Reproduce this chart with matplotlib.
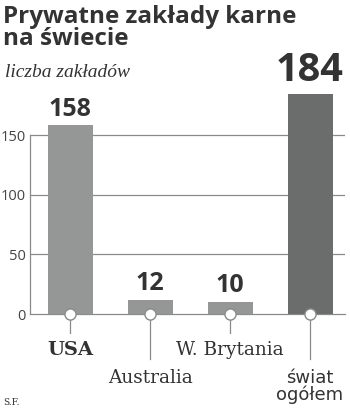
import matplotlib
matplotlib.use("Agg")
import matplotlib.pyplot as plt

# data
categories = ["USA", "Australia", "W. Brytania", "świat\nogółem"]
values     = [158, 12, 10, 184]
yticks     = [0, 50, 100, 150]

BAR_GRAY  = "#959696"
BAR_DARK  = "#6b6d6d"
TEXT_DARK = "#333333"
GRID      = "#8a8a8a"

fig = plt.figure(figsize=(3.5, 4.09), dpi=100)
ax = fig.add_axes([30/350, 95/409, 315/350, 226.7/409])

colors = [BAR_GRAY, BAR_GRAY, BAR_GRAY, BAR_DARK]
x = list(range(len(categories)))
ax.bar(x, values, width=0.5625, color=colors, zorder=3)

ax.set_xlim(-0.5, 3.4375)
ax.set_ylim(0, 190)
ax.set_yticks(yticks)
ax.set_yticklabels([str(v) for v in yticks], fontsize=10.5, color="#444444",
                   family="Open Sans")
ax.tick_params(axis="y", length=0, pad=3)
ax.tick_params(axis="x", length=0, labelbottom=False)
for yv in yticks[1:]:
    ax.axhline(yv, color=GRID, lw=0.9, zorder=1)

for s in ["top", "right"]:
    ax.spines[s].set_visible(False)
ax.spines["left"].set_bounds(0, 150)
ax.spines["left"].set_color(GRID)
ax.spines["bottom"].set_color(GRID)
ax.spines["left"].set_linewidth(0.9)
ax.spines["bottom"].set_linewidth(0.9)

# value labels
for xi, v in zip(x, values):
    big = v == max(values)
    ax.text(xi, v + (4 if big else 3), str(v), ha="center", va="bottom",
            fontsize=28.5 if big else 18, fontweight="bold", color=TEXT_DARK,
            family="Open Sans")

# leader lines + circles + category labels
line_end  = [-16, -38, -16, -38]
label_pos = [-23, -46, -23, -46]
for xi, cat, le, lp in zip(x, categories, line_end, label_pos):
    ax.plot([xi, xi], [0, le], color=GRID, lw=0.9, clip_on=False, zorder=4)
    ax.plot(xi, 0, "o", ms=8, mfc="white", mec=GRID, mew=1, clip_on=False, zorder=5)
    if cat == "USA":
        ax.text(xi, lp, cat, ha="center", va="top", fontsize=14,
                fontweight="bold", color=TEXT_DARK, family="DejaVu Serif")
    elif "\n" in cat:
        ax.text(xi, lp, cat, ha="center", va="top", fontsize=13,
                color=TEXT_DARK, family="DejaVu Sans", linespacing=0.9)
    else:
        ax.text(xi, lp, cat, ha="center", va="top", fontsize=13.3,
                color=TEXT_DARK, family="DejaVu Serif")

fig.text(0.008, 0.988, "Prywatne zakłady karne\nna świecie", ha="left", va="top",
         fontsize=17.5, fontweight="bold", color=TEXT_DARK, family="Open Sans",
         linespacing=0.9)
fig.text(0.015, 0.843, "liczba zakładów", ha="left", va="top", fontsize=14,
         style="italic", color=TEXT_DARK, family="Liberation Serif")
fig.text(0.01, 0.005, "S.F.", ha="left", va="bottom", fontsize=6.5,
         color=TEXT_DARK, family="DejaVu Serif")

fig.savefig("out.png", dpi=100)
